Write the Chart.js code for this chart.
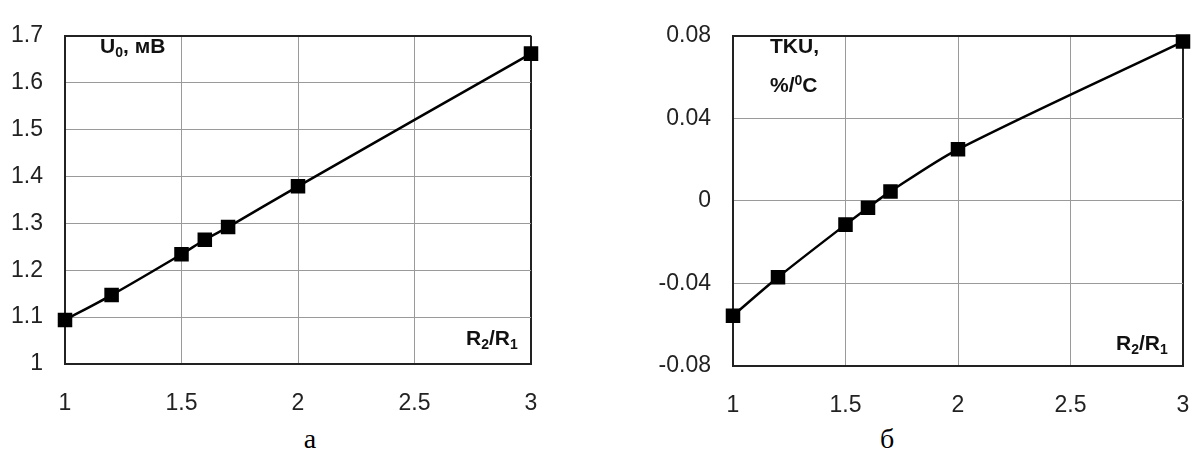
<!DOCTYPE html>
<html>
<head>
<meta charset="utf-8">
<script src="https://cdn.jsdelivr.net/npm/chart.js@4/dist/chart.umd.min.js"></script>
<style>
  html, body { margin: 0; padding: 0; background: #fff; }
  body { width: 1194px; height: 455px; position: relative; overflow: hidden; }
  .box { position: absolute; top: 0; height: 420px; }
  .lbl { position: absolute; font-family: "Liberation Sans", Arial, sans-serif; font-weight: bold;
         font-size: 21px; line-height: 1; color: #111; white-space: nowrap; }
  .lbl sub { font-size: 14px; vertical-align: -4px; }
  .lbl sup { font-size: 14px; vertical-align: 7px; }
  .cap { position: absolute; font-family: "Liberation Serif", "Times New Roman", serif;
         font-size: 28px; line-height: 1; color: #000; transform: translateX(-50%); }
</style>
</head>
<body>
<div class="box" style="left:0;width:570px"><canvas id="chartA"></canvas></div>
<div class="box" style="left:600px;width:594px"><canvas id="chartB"></canvas></div>

<div class="lbl" style="left:100px;top:35px">U<sub>0</sub>, мВ</div>
<div class="lbl" style="left:466px;top:327px">R<sub>2</sub>/R<sub>1</sub></div>
<div class="lbl" style="left:770px;top:29px;line-height:34px">TKU,<br>%/<sup>0</sup>C</div>
<div class="lbl" style="left:1116px;top:332px">R<sub>2</sub>/R<sub>1</sub></div>

<div class="cap" style="left:310px;top:425px">а</div>
<div class="cap" style="left:887px;top:425px">б</div>

<script>
// R2/R1 ratios
var ratio = [1, 1.2, 1.5, 1.6, 1.7, 2, 3];
// U0, mV
var u0 = [1.094, 1.147, 1.234, 1.265, 1.292, 1.379, 1.662];
// TKU, %/°C
var tku = [-0.0556, -0.037, -0.0115, -0.0033, 0.0046, 0.025, 0.0772];

var xTicks = [1, 1.5, 2, 2.5, 3];
var u0Ticks = [1, 1.1, 1.2, 1.3, 1.4, 1.5, 1.6, 1.7];
var tkuTicks = [-0.08, -0.04, 0, 0.04, 0.08];

var tickFont = { family: "'Liberation Sans', Arial, sans-serif", size: 23 };

function pts(ys) {
  return ratio.map(function (x, i) { return { x: x, y: ys[i] }; });
}

function makeChart(id, ys, yTicks, yAxisWidth, pad) {
  var ymin = yTicks[0], ymax = yTicks[yTicks.length - 1];
  var xmin = xTicks[0], xmax = xTicks[xTicks.length - 1];
  var edge = function (max) {
    return function (c) { return c.tick && Math.abs(c.tick.value - max) < 1e-9 ? '#222' : '#9a9a9a'; };
  };
  var edgeW = function (max) {
    return function (c) { return c.tick && Math.abs(c.tick.value - max) < 1e-9 ? 2 : 1; };
  };
  return new Chart(document.getElementById(id).getContext('2d'), {
    type: 'line',
    data: {
      datasets: [{
        data: pts(ys),
        borderColor: '#000',
        backgroundColor: '#000',
        borderWidth: 2.5,
        pointStyle: 'rect',
        pointRadius: 8.5,
        pointHoverRadius: 8.5,
        tension: 0.3,
        clip: false
      }]
    },
    options: {
      responsive: true,
      maintainAspectRatio: false,
      animation: false,
      layout: { padding: { left: 0, right: pad.right, top: pad.top, bottom: 0 } },
      plugins: { legend: { display: false }, tooltip: { enabled: false } },
      scales: {
        x: {
          type: 'linear',
          min: xmin, max: xmax,
          afterBuildTicks: function (s) { s.ticks = xTicks.map(function (v) { return { value: v }; }); },
          afterFit: function (s) { s.height = pad.xh; s.paddingLeft = 0; s.paddingRight = 0; },
          grid: { color: edge(xmax), lineWidth: edgeW(xmax), drawTicks: false },
          border: { color: '#222', width: 2 },
          ticks: { color: '#222', font: tickFont, padding: 26, maxRotation: 0,
                   callback: function (v) { return String(+v.toFixed(2)); } }
        },
        y: {
          type: 'linear',
          min: ymin, max: ymax,
          afterBuildTicks: function (s) { s.ticks = yTicks.map(function (v) { return { value: v }; }); },
          afterFit: function (s) { s.width = yAxisWidth; },
          grid: { color: edge(ymax), lineWidth: edgeW(ymax), drawTicks: false },
          border: { color: '#222', width: 2 },
          ticks: { color: '#222', font: tickFont, padding: 22,
                   callback: function (v) { return String(+v.toFixed(3)); } }
        }
      }
    }
  });
}

makeChart('chartA', u0, u0Ticks, 65, { right: 39, top: 23, xh: 56 });
makeChart('chartB', tku, tkuTicks, 133, { right: 11, top: 23, xh: 54 });
</script>
</body>
</html>
